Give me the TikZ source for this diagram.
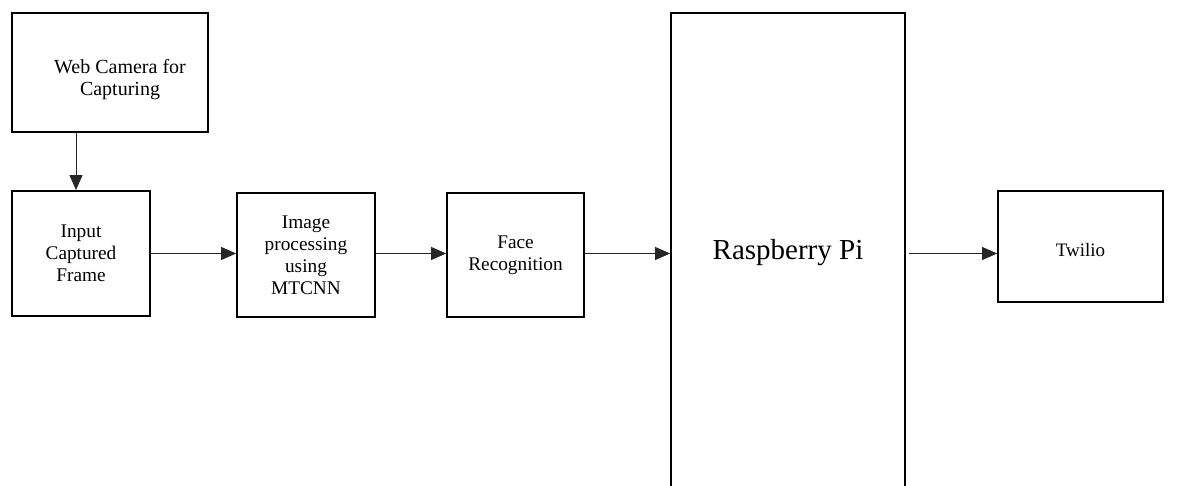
\documentclass[tikz,border=0pt]{standalone}
\usepackage{fontspec}
\setmainfont{Liberation Serif}
\usetikzlibrary{arrows.meta}
\begin{document}
\begin{tikzpicture}[x=1pt,y=-1pt,
  blk/.style={draw=black, line width=1.8pt, align=center, inner sep=0pt,
    font=\fontsize{19.3}{22}\selectfont},
  arr/.style={draw=black!85, line width=1pt, -{Triangle[length=15pt,width=13pt]}}]
\useasboundingbox (0,0) rectangle (1177,486);
\clip (0,0) rectangle (1177,486);
\node[blk, minimum width=196pt, minimum height=119pt, font=\fontsize{20}{21.5}\selectfont] (wc) at (110,72.5) {\rule{0pt}{28pt}\hspace*{20pt}Web Camera for\\\hspace*{20pt}Capturing};
\node[blk, minimum width=138pt, minimum height=125pt] (inp) at (81,253.5) {Input\\Captured\\Frame};
\node[blk, minimum width=138pt, minimum height=124pt] (img) at (306,255) {Image\\processing\\using\\MTCNN};
\node[blk, minimum width=137pt, minimum height=124pt] (face) at (515.5,255) {Face\\Recognition};
\node[blk, minimum width=234pt, minimum height=480pt, font=\fontsize{29}{34}\selectfont] (rpi) at (788,253) {Raspberry Pi};
\node[blk, minimum width=165pt, minimum height=111pt, font=\fontsize{19}{22}\selectfont] (tw) at (1080.5,246.5) {\rule{0pt}{20pt}Twilio};
\draw[arr] ([xshift=-34pt]wc.south) -- ([xshift=-34pt]wc.south |- inp.north);
\draw[arr] (inp.east) -- (inp.east -| img.west);
\draw[arr] (img.east |- inp.east) -- (inp.east -| face.west);
\draw[arr] (face.east |- inp.east) -- (inp.east -| rpi.west);
\draw[arr] ([xshift=3pt]rpi.east |- inp.east) -- (inp.east -| tw.west);
\end{tikzpicture}
\end{document}
